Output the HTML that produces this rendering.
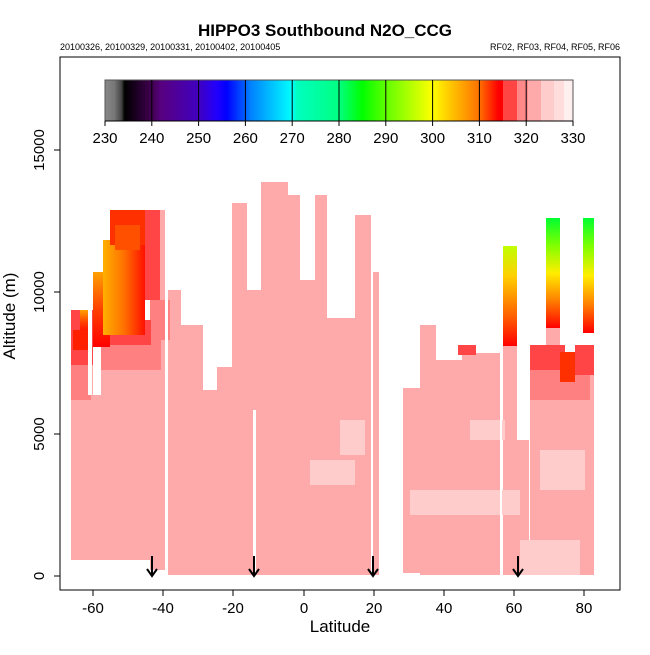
<!DOCTYPE html>
<html><head><meta charset="utf-8"><style>
body{margin:0;background:#fff;}
svg text{font-family:"Liberation Sans",sans-serif;}
</style></head><body>
<svg width="650" height="650" viewBox="0 0 650 650" xmlns="http://www.w3.org/2000/svg">
<defs>
<linearGradient id="cb" x1="0" x2="1" y1="0" y2="0">
<stop offset="0" stop-color="#888"/><stop offset="0.02" stop-color="#777"/><stop offset="0.035" stop-color="#444"/><stop offset="0.042" stop-color="#000"/>
<stop offset="0.1" stop-color="#400050"/><stop offset="0.12" stop-color="#580080"/><stop offset="0.2" stop-color="#4000c0"/>
<stop offset="0.24" stop-color="#2000ff"/><stop offset="0.26" stop-color="#0000ff"/><stop offset="0.3" stop-color="#0060ff"/>
<stop offset="0.31" stop-color="#0080ff"/><stop offset="0.4" stop-color="#00ffff"/><stop offset="0.41" stop-color="#00ffc0"/>
<stop offset="0.5" stop-color="#00ff80"/><stop offset="0.55" stop-color="#00ff00"/><stop offset="0.6" stop-color="#60ff00"/>
<stop offset="0.7" stop-color="#ffff00"/><stop offset="0.72" stop-color="#ffe000"/><stop offset="0.8" stop-color="#ff7000"/>
<stop offset="0.84" stop-color="#ff0000"/><stop offset="1" stop-color="#ff0000"/>
</linearGradient>
<linearGradient id="gh" x1="0" x2="1" y1="0" y2="0"><stop offset="0" stop-color="#ffb000"/><stop offset="0.5" stop-color="#ff7000"/><stop offset="1" stop-color="#ff1000"/></linearGradient>
<linearGradient id="gy" x1="0" x2="0" y1="0" y2="1"><stop offset="0" stop-color="#c0ff00"/><stop offset="0.3" stop-color="#ffd000"/><stop offset="0.7" stop-color="#ff6000"/><stop offset="1" stop-color="#ff0000"/></linearGradient>
<linearGradient id="gg" x1="0" x2="0" y1="0" y2="1"><stop offset="0" stop-color="#00ff30"/><stop offset="0.25" stop-color="#80ff00"/><stop offset="0.5" stop-color="#ffee00"/><stop offset="0.75" stop-color="#ff8000"/><stop offset="1" stop-color="#ff0000"/></linearGradient>
<linearGradient id="go" x1="0" x2="0" y1="0" y2="1"><stop offset="0" stop-color="#ffa000"/><stop offset="0.5" stop-color="#ff4000"/><stop offset="1" stop-color="#ff0000"/></linearGradient>
</defs>
<rect width="650" height="650" fill="#fff"/>
<text x="325" y="36" text-anchor="middle" font-size="17" font-weight="bold">HIPPO3 Southbound N2O_CCG</text>
<text x="60" y="50" font-size="9">20100326, 20100329, 20100331, 20100402, 20100405</text>
<text x="620" y="50" font-size="9" text-anchor="end">RF02, RF03, RF04, RF05, RF06</text>

<g fill="#ffaaaa">
<rect x="71" y="345" width="22" height="215"/>
<rect x="93" y="395" width="8" height="165"/>
<rect x="101" y="320" width="64" height="240"/>
<rect x="150" y="210" width="15" height="360"/>
<rect x="167" y="290" width="14" height="285"/>
<rect x="181" y="325" width="22" height="250"/>
<rect x="203" y="390" width="14" height="185"/>
<rect x="217" y="367" width="15" height="208"/>
<rect x="232" y="203" width="15" height="372"/>
<rect x="247" y="290" width="14" height="285"/>
<rect x="261" y="182" width="27" height="393"/>
<rect x="288" y="195" width="12" height="380"/>
<rect x="300" y="280" width="15" height="295"/>
<rect x="315" y="195" width="12" height="380"/>
<rect x="327" y="318" width="28" height="257"/>
<rect x="355" y="215" width="16" height="360"/>
<rect x="373" y="272" width="6" height="303"/>
<rect x="403" y="388" width="17" height="185"/>
<rect x="420" y="325" width="16" height="250"/>
<rect x="436" y="360" width="26" height="215"/>
<rect x="462" y="347" width="14" height="228"/>
<rect x="476" y="353" width="24" height="222"/>
<rect x="503" y="330" width="14" height="245"/>
<rect x="517" y="440" width="12" height="135"/>
<rect x="530" y="345" width="16" height="230"/>
<rect x="546" y="325" width="14" height="250"/>
<rect x="560" y="352" width="34" height="223"/>
</g>
<g fill="#ffcccc">
<rect x="310" y="460" width="45" height="25"/>
<rect x="340" y="420" width="25" height="35"/>
<rect x="410" y="490" width="110" height="25"/>
<rect x="520" y="540" width="60" height="35"/>
<rect x="540" y="450" width="45" height="40"/>
<rect x="470" y="420" width="35" height="20"/>
</g>
<g fill="#ff8080">
<rect x="101" y="340" width="60" height="30"/>
<rect x="71" y="360" width="20" height="40"/>
<rect x="150" y="300" width="20" height="40"/>
<rect x="530" y="360" width="60" height="40"/>
</g>
<g fill="#ff4545">
<rect x="71" y="310" width="22" height="55"/>
<rect x="140" y="210" width="20" height="90"/>
<rect x="101" y="320" width="50" height="25"/>
<rect x="458" y="345" width="18" height="10"/>
<rect x="530" y="345" width="35" height="25"/>
<rect x="575" y="345" width="19" height="30"/>
</g>
<rect x="80" y="310" width="8" height="25" fill="url(#go)"/>
<rect x="73" y="330" width="18" height="20" fill="#ff2000"/>
<rect x="93" y="272" width="17" height="75" fill="url(#go)"/>
<rect x="103" y="240" width="42" height="95" fill="url(#gh)"/>
<rect x="110" y="210" width="35" height="35" fill="#ff3000"/>
<rect x="115" y="225" width="25" height="25" fill="#ff5000"/>
<rect x="503" y="246" width="14" height="100" fill="url(#gy)"/>
<rect x="546" y="218" width="14" height="110" fill="url(#gg)"/>
<rect x="583" y="218" width="11" height="115" fill="url(#gg)"/>
<rect x="560" y="352" width="15" height="30" fill="#ff3000"/>
<g fill="#fff">
<rect x="88" y="275" width="4" height="120"/>
<rect x="165" y="205" width="3" height="370"/>
<rect x="253" y="410" width="3" height="170"/>
<rect x="371" y="265" width="2" height="315"/>
<rect x="500" y="345" width="2" height="230"/>
</g>

<rect x="105" y="80" width="468" height="41" fill="url(#cb)"/>
<rect x="503" y="80" width="14" height="41" fill="#ff4444"/>
<rect x="517" y="80" width="11" height="41" fill="#ff8888"/>
<rect x="528" y="80" width="13" height="41" fill="#ffaaaa"/>
<rect x="541" y="80" width="13" height="41" fill="#ffcccc"/>
<rect x="554" y="80" width="10" height="41" fill="#ffdddd"/>
<rect x="564" y="80" width="9" height="41" fill="#fff0f0"/>
<rect x="105" y="80" width="468" height="41" fill="none" stroke="#555" stroke-width="1"/>
<g stroke="#000" stroke-width="1">
<line x1="105" y1="121" x2="573" y2="121"/>
<line x1="105" y1="121" x2="105" y2="126"/><line x1="151.8" y1="80" x2="151.8" y2="126"/><line x1="198.6" y1="80" x2="198.6" y2="126"/><line x1="245.4" y1="80" x2="245.4" y2="126"/><line x1="292.2" y1="80" x2="292.2" y2="126"/><line x1="339" y1="80" x2="339" y2="126"/><line x1="385.8" y1="80" x2="385.8" y2="126"/><line x1="432.6" y1="80" x2="432.6" y2="126"/><line x1="479.4" y1="80" x2="479.4" y2="126"/><line x1="526.2" y1="80" x2="526.2" y2="126"/><line x1="573" y1="121" x2="573" y2="126"/>
</g>
<g font-size="15" text-anchor="middle">
<text x="105" y="143">230</text><text x="151.8" y="143">240</text><text x="198.6" y="143">250</text><text x="245.4" y="143">260</text><text x="292.2" y="143">270</text><text x="339" y="143">280</text><text x="385.8" y="143">290</text><text x="432.6" y="143">300</text><text x="479.4" y="143">310</text><text x="526.2" y="143">320</text><text x="573" y="143">330</text>
</g>

<g stroke="#000" stroke-width="2" fill="none">
<line x1="152" y1="556" x2="152" y2="576"/><polyline points="147,569 152,576 157,569"/>
<line x1="254" y1="556" x2="254" y2="576"/><polyline points="249,569 254,576 259,569"/>
<line x1="373" y1="556" x2="373" y2="576"/><polyline points="368,569 373,576 378,569"/>
<line x1="518" y1="556" x2="518" y2="576"/><polyline points="513,569 518,576 523,569"/>
</g>

<rect x="60" y="57" width="560" height="533" fill="none" stroke="#000" stroke-width="1"/>
<g stroke="#000">
<line x1="93" y1="590" x2="93" y2="596"/><line x1="163" y1="590" x2="163" y2="596"/><line x1="233" y1="590" x2="233" y2="596"/><line x1="304" y1="590" x2="304" y2="596"/><line x1="374" y1="590" x2="374" y2="596"/><line x1="444" y1="590" x2="444" y2="596"/><line x1="514" y1="590" x2="514" y2="596"/><line x1="584" y1="590" x2="584" y2="596"/>
<line x1="54" y1="576" x2="60" y2="576"/><line x1="54" y1="434" x2="60" y2="434"/><line x1="54" y1="292" x2="60" y2="292"/><line x1="54" y1="150" x2="60" y2="150"/>
</g>
<g font-size="15" text-anchor="middle">
<text x="93" y="613">-60</text><text x="163" y="613">-40</text><text x="233" y="613">-20</text><text x="304" y="613">0</text><text x="374" y="613">20</text><text x="444" y="613">40</text><text x="514" y="613">60</text><text x="584" y="613">80</text>
<text transform="translate(44,576) rotate(-90)">0</text>
<text transform="translate(44,434) rotate(-90)">5000</text>
<text transform="translate(44,292) rotate(-90)">10000</text>
<text transform="translate(44,150) rotate(-90)">15000</text>
</g>
<text x="340" y="632" font-size="17" text-anchor="middle">Latitude</text>
<text transform="translate(15,316) rotate(-90)" font-size="17" text-anchor="middle">Altitude (m)</text>
</svg>
</body></html>
